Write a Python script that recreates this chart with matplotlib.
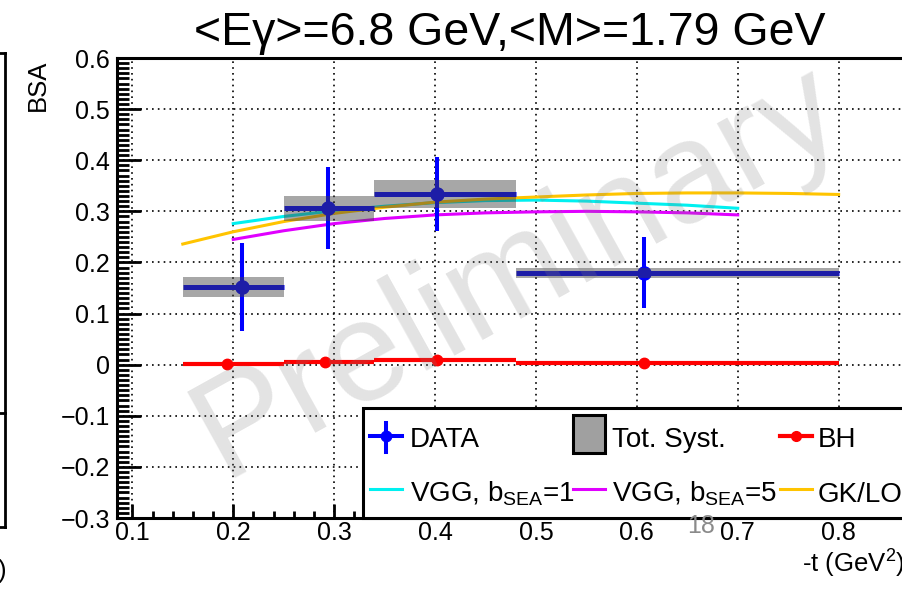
import numpy as np
import matplotlib
matplotlib.use('Agg')
import matplotlib.pyplot as plt
from matplotlib.lines import Line2D
from matplotlib.patches import Rectangle
from matplotlib.ticker import MultipleLocator, FuncFormatter

plt.rcParams['font.family'] = ['Liberation Sans', 'DejaVu Sans']
plt.rcParams['mathtext.fontset'] = 'custom'
plt.rcParams['mathtext.rm'] = 'Liberation Sans'
plt.rcParams['mathtext.default'] = 'regular'

# measured BSA in -t bins
t_data = [0.209, 0.294, 0.402, 0.607]
t_lo = [0.15, 0.25, 0.34, 0.48]
t_hi = [0.25, 0.34, 0.48, 0.80]
bsa = [0.152, 0.306, 0.334, 0.180]
bsa_stat = [0.087, 0.080, 0.072, 0.070]
bsa_syst = [0.020, 0.024, 0.027, 0.0095]

# Bethe-Heitler only
t_bh = [0.194, 0.291, 0.402, 0.607]
bsa_bh = [0.001, 0.0045, 0.009, 0.0025]

# model predictions
t_vgg = [0.20, 0.25, 0.30, 0.35, 0.40, 0.45, 0.50, 0.55, 0.60, 0.65, 0.70]
vgg_b1 = [0.276, 0.290, 0.301, 0.310, 0.317, 0.321, 0.322, 0.320, 0.316, 0.312, 0.306]
vgg_b5 = [0.245, 0.262, 0.276, 0.286, 0.293, 0.297, 0.299, 0.300, 0.299, 0.297, 0.293]
t_gk = [0.15, 0.20, 0.25, 0.30, 0.35, 0.40, 0.45, 0.50, 0.55, 0.60, 0.65, 0.70, 0.75, 0.80]
gk_lo = [0.236, 0.260, 0.280, 0.296, 0.308, 0.318, 0.324, 0.328, 0.332, 0.335, 0.336, 0.336, 0.335, 0.333]

W, H = 902, 590
def fx(x):
    return x / W
def fy(y):
    return 1 - y / H

fig = plt.figure(figsize=(W / 100, H / 100), dpi=100)

# frame spans past the right edge of the canvas
xmin, xmax = 0.0848, 0.9
left, bottom, top = 117, 518, 58
right = left + (xmax - xmin) * 1009
ax = fig.add_axes([fx(left), fy(bottom), (right - left) / W, (bottom - top) / H])
ax.set_xlim(xmin, xmax)
ax.set_ylim(-0.3, 0.6)

for s in ax.spines.values():
    s.set_linewidth(2.2)
ax.xaxis.set_major_locator(MultipleLocator(0.1))
ax.xaxis.set_minor_locator(MultipleLocator(0.02))
ax.yaxis.set_major_locator(MultipleLocator(0.1))
ax.yaxis.set_minor_locator(MultipleLocator(0.01))
fmt = FuncFormatter(lambda v, p: '0' if abs(v) < 1e-9 else ('%.1f' % v).replace('-', '\u2212'))
ax.xaxis.set_major_formatter(fmt)
ax.yaxis.set_major_formatter(fmt)
ax.tick_params(axis='both', which='both', direction='in', width=2, labelsize=18,
               top=False, right=False)
ax.tick_params(axis='y', which='major', length=17, pad=5)
ax.tick_params(axis='y', which='minor', length=8.6)
ax.tick_params(axis='x', which='major', length=10, pad=2)
ax.tick_params(axis='x', which='minor', length=5)
ax.set_axisbelow(True)
ax.grid(True, which='major', color='black', lw=1.2, linestyle=(0, (1, 2.5)))

# models
ax.plot(t_vgg, vgg_b1, color='#00f0f0', lw=2.2, zorder=2)
ax.plot(t_vgg, vgg_b5, color='#e000ff', lw=2.2, zorder=2)
ax.plot(t_gk, gk_lo, color='#ffc400', lw=2.2, zorder=2)

# data with stat errors
t_data = np.array(t_data)
xerr = [t_data - np.array(t_lo), np.array(t_hi) - t_data]
ax.errorbar(t_data, bsa, xerr=xerr, fmt='none', ecolor='#0000ff', elinewidth=3.6,
            capsize=0, zorder=3)
ax.errorbar(t_data, bsa, yerr=bsa_stat, fmt='o', color='#0000ff', ms=9.5,
            elinewidth=2.9, capsize=0, zorder=3)

# total systematics
syst = np.array(bsa_syst)
ax.bar(t_lo, 2 * syst, width=np.array(t_hi) - np.array(t_lo), bottom=np.array(bsa) - syst,
       align='edge', color='#404040', alpha=0.46, lw=0, zorder=4)

# BH
t_bh = np.array(t_bh)
ax.errorbar(t_bh, bsa_bh, xerr=[t_bh - np.array(t_lo), np.array(t_hi) - t_bh], fmt='o',
            color='#ff0000', ms=7.5, elinewidth=3, capsize=0, zorder=3)

# watermark
fig.text(fx(518), fy(272), 'Preliminary', fontsize=103, color='#808080', alpha=0.22,
         rotation=29, ha='center', va='center', rotation_mode='anchor', zorder=5)

# legend
tf = fig.transFigure
leg = Rectangle((fx(363), fy(518)), fx(960) - fx(363), fy(408) - fy(518), transform=tf,
                facecolor='white', edgecolor='black', lw=2.2, zorder=6)
fig.patches.append(leg)
r1, r2 = 436, 489
fig.lines.append(Line2D([fx(370), fx(402)], [fy(r1), fy(r1)], transform=tf, color='#0000ff', lw=2.9, zorder=7))
fig.lines.append(Line2D([fx(386), fx(386)], [fy(r1 - 13), fy(r1 + 16)], transform=tf, color='#0000ff', lw=2.9, zorder=7))
fig.lines.append(Line2D([fx(386)], [fy(r1)], transform=tf, color='#0000ff', marker='o', ms=7.5, zorder=7))
fig.patches.append(Rectangle((fx(573), fy(453)), fx(605) - fx(573), fy(415) - fy(453), transform=tf,
                             facecolor='#a0a0a0', edgecolor='black', lw=2.2, zorder=7))
fig.lines.append(Line2D([fx(780), fx(812)], [fy(r1), fy(r1)], transform=tf, color='#ff0000', lw=3, zorder=7))
fig.lines.append(Line2D([fx(796)], [fy(r1)], transform=tf, color='#ff0000', marker='o', ms=7, zorder=7))
fig.lines.append(Line2D([fx(370), fx(402)], [fy(r2), fy(r2)], transform=tf, color='#00f0f0', lw=2.2, zorder=7))
fig.lines.append(Line2D([fx(573), fx(605)], [fy(r2), fy(r2)], transform=tf, color='#e000ff', lw=2.2, zorder=7))
fig.lines.append(Line2D([fx(780), fx(812)], [fy(r2), fy(r2)], transform=tf, color='#ffc400', lw=2.2, zorder=7))
labels = [('DATA', 410, 447), ('Tot. Syst.', 612, 447), ('BH', 818, 447),
          ('VGG, b$_{SEA}$=1', 410, 502), ('VGG, b$_{SEA}$=5', 612, 502), ('GK/LO', 818, 502)]
for txt, x, y in labels:
    fig.text(fx(x), fy(y), txt, fontsize=20, ha='left', va='baseline', zorder=8)

# titles and axis labels
fig.text(fx(510), fy(45), '<E\u03b3>=6.8 GeV,<M>=1.79 GeV', fontsize=33.5, ha='center', va='baseline')
fig.text(fx(38), fy(60), 'BSA', fontsize=18.5, rotation=90, ha='center', va='top')
fig.text(fx(802), fy(573), '-t (GeV$^{2}$)', fontsize=18.5, ha='left', va='baseline')
fig.text(fx(701), fy(533), '18', fontsize=18, color='#8a8a8a', ha='center', va='baseline', zorder=9)

# edge of the neighbouring panel
for seg in [([5, 5], [53, 527]), ([0, 5], [53, 53]), ([0, 5], [527, 527]), ([0, 5], [413, 413])]:
    fig.lines.append(Line2D([fx(v) for v in seg[0]], [fy(v) for v in seg[1]], transform=tf,
                            color='black', lw=2))
fig.text(fx(6), fy(578), ')', fontsize=18.5, ha='right', va='baseline')

fig.savefig('out.png', dpi=100)
